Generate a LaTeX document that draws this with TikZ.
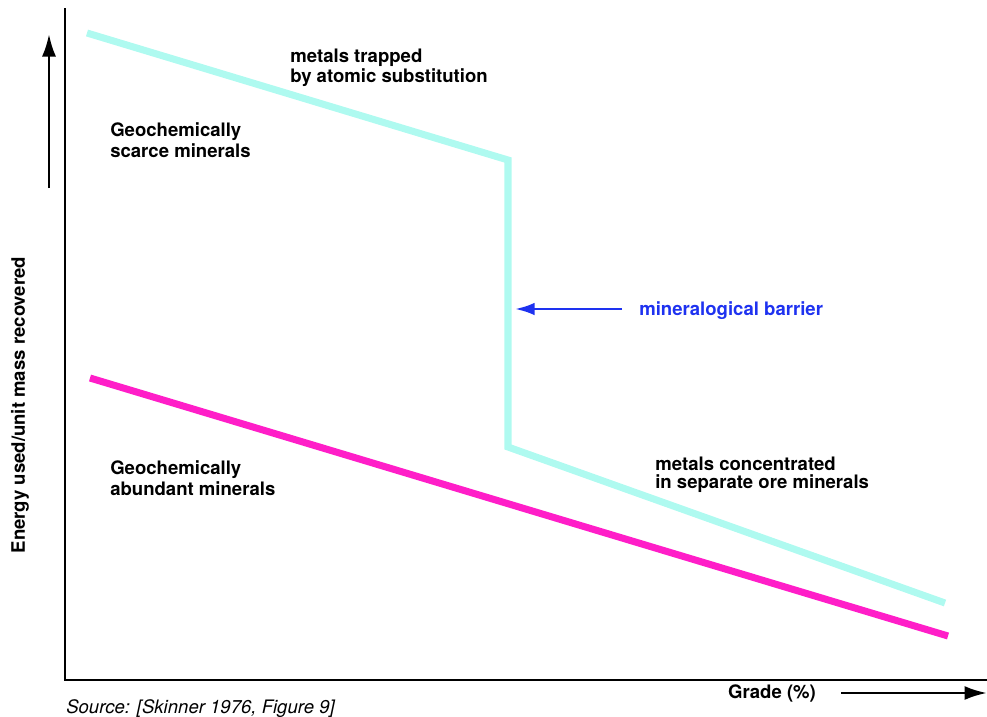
\documentclass[tikz,border=0pt]{standalone}
\usepackage{fontspec}
\setmainfont{TeX Gyre Heros}
\usepackage{xcolor}
\usepackage{tikz}
\usetikzlibrary{arrows.meta}
\definecolor{scarcecyan}{RGB}{175,250,240}
\definecolor{abundantpink}{RGB}{255,30,200}
\definecolor{barrierblue}{RGB}{30,50,240}
\tikzset{
	lbl/.style={font=\fontsize{13.2}{14.5}\selectfont\bfseries, align=left, anchor=base west, inner sep=0pt},
	tightlbl/.style={lbl, font=\fontsize{13.2}{12.5}\selectfont\bfseries},
	curve/.style={line width=5pt, line join=miter},
	axisarrow/.style={-{Latex[length=16pt,width=10pt]}, line width=2pt}
}

\begin{document}
\begin{tikzpicture}[x=0.025cm,y=-0.025cm]
		\useasboundingbox (0,0) rectangle (987,717);
		% axes
		\draw [line width=2.1pt](65,8) -- (65,680) -- (987,680);
		\draw [axisarrow](49,188) -- (49,34);
		\draw [axisarrow](841,693) -- (987,693);
		\node[lbl, anchor=center] (grade) at (772,693) {Grade (\%)};
		\node[lbl, anchor=center, rotate=90] (energy) at (20,405) {Energy used/unit mass recovered};
		\node[lbl, font=\fontsize{13.2}{14.5}\selectfont\itshape] (source) at (66,713) {Source: [Skinner 1976, Figure 9]};
		% the two curves
		\draw[curve, scarcecyan] (87,33) -- (508,160) -- (508,447) -- (945,603);
		\draw[curve, abundantpink] (90,378) -- (948,636);
		% labels
		\node[tightlbl] (trapped) at (290,82) {metals trapped\\by atomic substitution};
		\node[lbl] (scarce) at (110,157) {Geochemically\\scarce minerals};
		\node[lbl] (abundant) at (110,495) {Geochemically\\abundant minerals};
		\node[tightlbl] (concentrated) at (655,488) {metals concentrated\\in separate ore minerals};
		\node[lbl, text=barrierblue] (barrier) at (639,315) {mineralogical barrier};
		\coordinate (barriertail) at (622,309);
		\coordinate (barriertip) at (515,309);
		\draw[-{Latex[length=14pt,width=9pt]}, line width=2pt, barrierblue] (barriertail) -- (barriertip);
\end{tikzpicture}
\end{document}
